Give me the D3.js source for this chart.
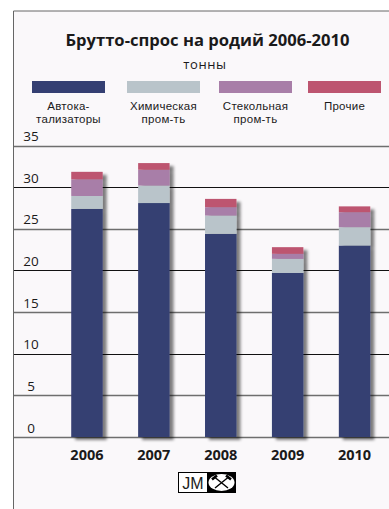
<!DOCTYPE html>
<html><head><meta charset="utf-8">
<script src="https://cdn.jsdelivr.net/npm/d3@7/dist/d3.min.js"></script>
<style>html,body{margin:0;padding:0;background:#fff}svg{display:block}text{font-family:"Open Sans",sans-serif;fill:#1a1a1a}</style>
</head><body><svg id="c" width="389" height="509"></svg>
<script>
const titleText = "Брутто-спрос на родий 2006-2010";
const unitText = "тонны";
const years = ["2006","2007","2008","2009","2010"];
const seriesNames = ["Автокатализаторы","Химическая пром-ть","Стекольная пром-ть","Прочие"];
const legendLines = [["Автока-","тализаторы"],["Химическая","пром-ть"],["Стекольная","пром-ть"],["Прочие"]];
const colors = ["#343f72","#b9c4ca","#a87ea8","#bd5570"];
const autocat = [27.4,28.1,24.4,19.7,23.0];
const chemical = [1.55,2.1,2.2,1.7,2.2];
const glass = [2.0,1.9,1.0,0.6,1.8];
const other = [0.9,0.8,1.0,0.8,0.7];
const yTicks = [0,5,10,15,20,25,30,35];

const svg = d3.select("#c");
const defs = svg.append("defs");
const f = defs.append("filter").attr("id","sh").attr("x","-20%").attr("y","-10%").attr("width","150%").attr("height","120%");
f.append("feGaussianBlur").attr("in","SourceAlpha").attr("stdDeviation",1.8).attr("result","b");
f.append("feOffset").attr("in","b").attr("dx",3.5).attr("dy",2.5).attr("result","o");
f.append("feComponentTransfer").attr("in","o").attr("result","o2").append("feFuncA").attr("type","linear").attr("slope",0.5);
const m = f.append("feMerge"); m.append("feMergeNode").attr("in","o2"); m.append("feMergeNode").attr("in","SourceGraphic");

svg.append("rect").attr("x",13).attr("y",11).attr("width",376).attr("height",498).attr("fill","#faf8fa");
svg.append("path").attr("d","M13.5,509V11H389").attr("fill","none").attr("stroke","#666").attr("stroke-width",1);

const y = d3.scaleLinear().domain([0,35]).range([437,145.6]);
const x = d3.scaleBand().domain(years).range([53.5,388]).paddingInner(0.53).paddingOuter(0.265);

const rows = years.map((yr,i)=>({year:yr,a:autocat[i],b:chemical[i],c:glass[i],d:other[i]}));
const stack = d3.stack().keys(["a","b","c","d"])(rows);

const grid = svg.append("g");
grid.selectAll("line").data(yTicks).join("line")
  .attr("x1",14).attr("x2",389).attr("y1",d=>Math.round(y(d))+0.5).attr("y2",d=>Math.round(y(d))+0.5)
  .attr("stroke",d=>d%10===0&&d>0?"#111":"#6e6e6e").attr("stroke-width",d=>d%10===0&&d>0?1:1.3);
svg.append("g").selectAll("text").data(yTicks).join("text")
  .attr("x",31).attr("y",d=>y(d)-4.5).attr("text-anchor","middle").attr("font-size",13.5).text(d=>d);

const bars = svg.append("g");
const gs = bars.selectAll("g").data(years).join("g").attr("filter","url(#sh)");
gs.each(function(yr,i){
  d3.select(this).selectAll("rect").data(stack.map((s,k)=>({v:s[i],k}))).join("rect")
    .attr("x",x(yr)).attr("width",x.bandwidth())
    .attr("y",d=>y(d.v[1])).attr("height",d=>y(d.v[0])-y(d.v[1]))
    .attr("fill",d=>colors[d.k]);
});

svg.append("text").attr("x",207.5).attr("y",46).attr("text-anchor","middle").attr("font-size",16.6).attr("font-weight",700).attr("fill","#000").text(titleText);
svg.append("text").attr("x",205).attr("y",69).attr("text-anchor","middle").attr("font-size",13).attr("letter-spacing",0.6).text(unitText);

const lx = d3.scaleOrdinal().domain(seriesNames).range([32,127,219,308]);
const lg = svg.append("g").selectAll("g").data(seriesNames).join("g");
lg.append("rect").attr("x",d=>lx(d)).attr("y",81).attr("width",73).attr("height",12).attr("fill",(d,i)=>colors[i]);
lg.each(function(d,i){
  d3.select(this).selectAll("text").data(legendLines[i]).join("text")
    .attr("x",lx(d)+36.5).attr("y",(t,j)=>110+j*12.8).attr("text-anchor","middle").attr("font-size",11.5)
    .attr("style","font-family:'Liberation Sans'").attr("letter-spacing",0.25).text(t=>t);
});

svg.append("g").selectAll("text").data(years).join("text")
  .attr("x",d=>x(d)+x.bandwidth()/2).attr("y",460).attr("text-anchor","middle").attr("font-size",14.5).attr("font-weight",700).attr("fill","#111").text(d=>d);

const logo = svg.append("g").attr("transform","translate(178,472)");
logo.append("rect").attr("x",0.5).attr("y",0.5).attr("width",57).attr("height",20).attr("fill","#fff").attr("stroke","#000");
logo.append("rect").attr("x",29).attr("y",0).attr("width",29).attr("height",21).attr("fill","#000");
logo.append("text").attr("x",15).attr("y",16.5).attr("text-anchor","middle").attr("font-size",16).attr("style","font-family:'Liberation Sans'").attr("fill","#000").text("JM");
logo.append("ellipse").attr("cx",43.5).attr("cy",10.5).attr("rx",13).attr("ry",8.5).attr("fill","#fff");
logo.append("path").attr("d","M37,5.5L50,16M50,5.5L37,16").attr("stroke","#000").attr("stroke-width",1.4);
logo.append("path").attr("d","M34,7.5L39,3.5M53,7.5L48,3.5").attr("stroke","#000").attr("stroke-width",2.6);
</script></body></html>
